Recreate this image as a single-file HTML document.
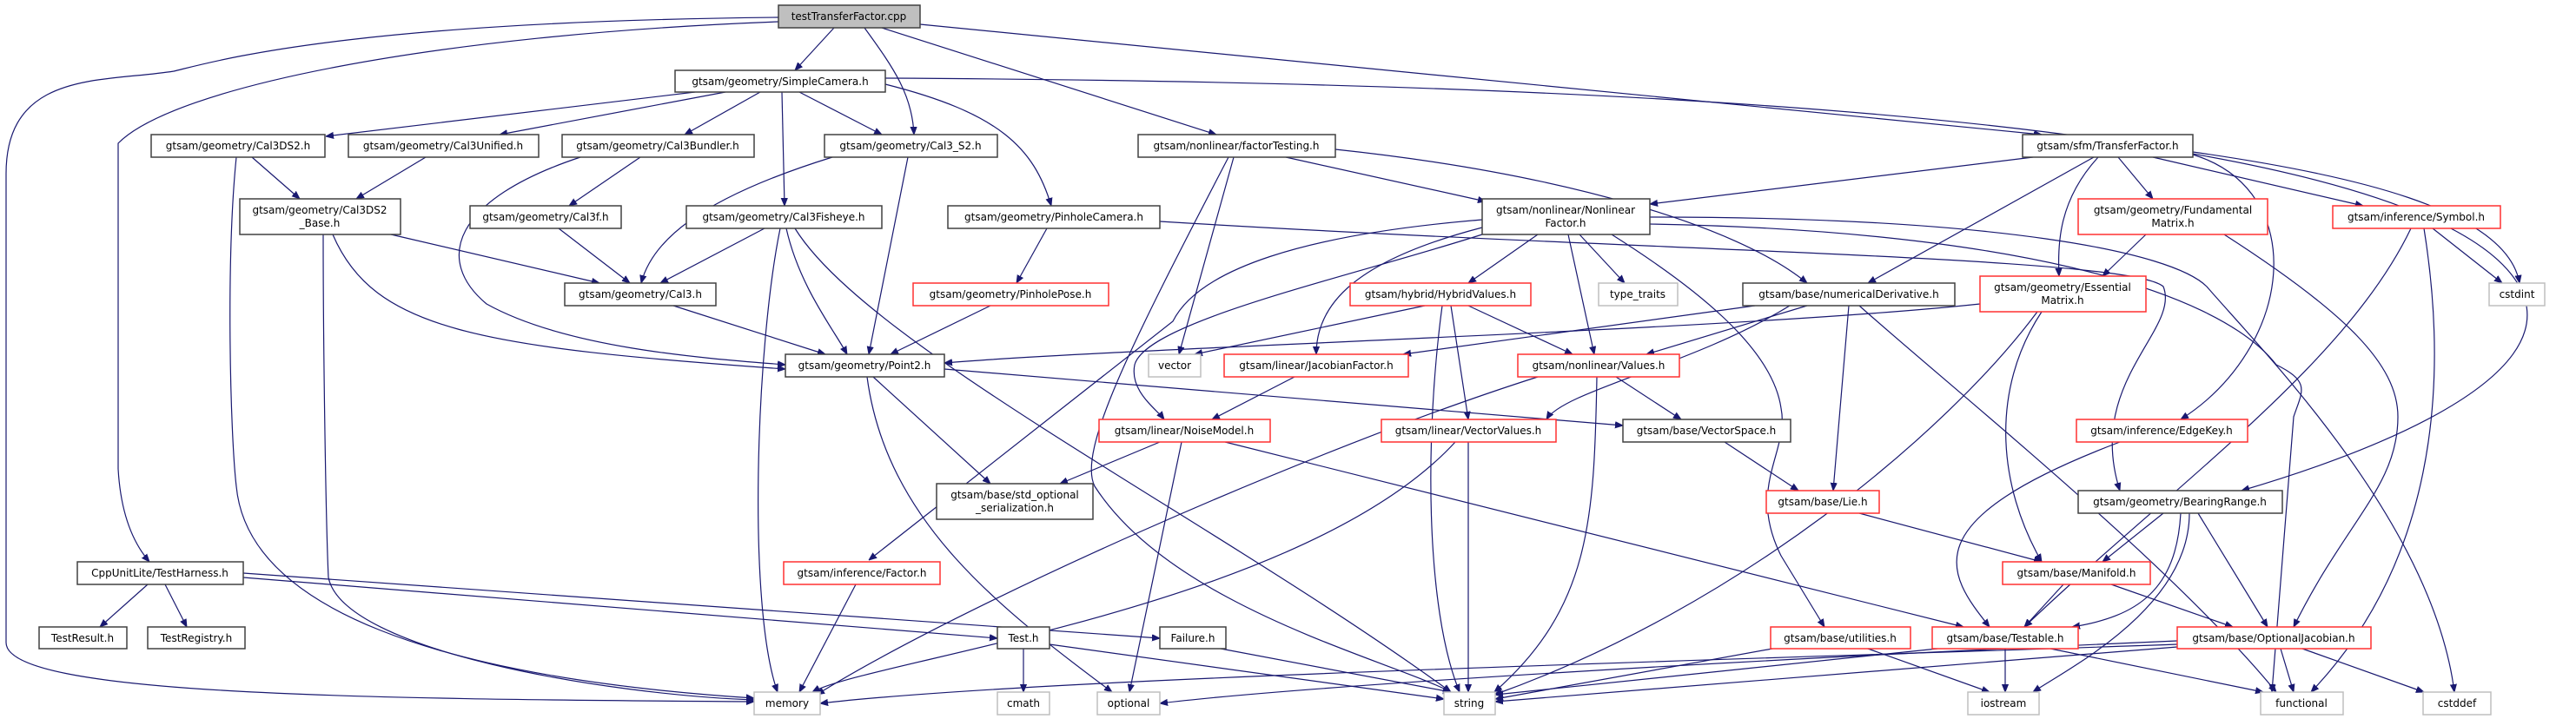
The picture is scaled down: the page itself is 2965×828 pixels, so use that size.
<!DOCTYPE html>
<html><head><meta charset="utf-8"><style>
html,body{margin:0;padding:0;background:#fff;}
svg{display:block;}
text{font-family:"DejaVu Sans","Liberation Sans",sans-serif;font-size:12px;fill:#000;text-anchor:middle;}
.n{fill:#fff;stroke:#404040;stroke-width:1.5;}
.r{fill:#fff;stroke:#ff3030;stroke-width:1.5;}
.g{fill:#fff;stroke:#bfbfbf;stroke-width:1.5;}
.e{fill:none;stroke:#191970;stroke-width:1.2;marker-end:url(#a);}
</style></head><body>
<svg width="2965" height="828" viewBox="0 0 2965 828" xmlns="http://www.w3.org/2000/svg">
<defs><marker id="a" viewBox="0 0 10 10" refX="10" refY="5" markerWidth="9" markerHeight="9" markerUnits="userSpaceOnUse" orient="auto"><path d="M0,1 L10,5 L0,9 z" fill="#191970" stroke="#191970"/></marker></defs>
<g>
<path class="e" d="M960,32 L915,81"/>
<path class="e" d="M995,32 C1030,80 1050,110 1052,155"/>
<path class="e" d="M1015,32 L1400,155"/>
<path class="e" d="M1059,28 L2350,155"/>
<path class="e" d="M896,25 C500,40 200,100 136,165 L136,540 Q140,610 172,647"/>
<path class="e" d="M896,20 C400,25 250,70 200,82 C120,95 7,80 7,200 L7,740 C7,800 400,805 868,808"/>
<path class="e" d="M800,106 L375,157"/>
<path class="e" d="M835,106 L575,155"/>
<path class="e" d="M875,106 L788,155"/>
<path class="e" d="M920,106 L1015,155"/>
<path class="e" d="M900,106 L903,237"/>
<path class="e" d="M1019,97 C1150,130 1190,170 1210,237"/>
<path class="e" d="M1019,90 C2000,95 2800,150 2900,330 C2960,440 2700,530 2580,565"/>
<path class="e" d="M290,181 L345,229"/>
<path class="e" d="M272,181 C260,300 265,500 272,560 C285,700 500,780 868,804"/>
<path class="e" d="M490,181 L410,229"/>
<path class="e" d="M737,181 L655,237"/>
<path class="e" d="M668,181 C520,230 500,300 560,350 C650,400 800,412 904,420"/>
<path class="e" d="M958,181 C800,230 750,280 738,326"/>
<path class="e" d="M1045,181 L1000,408"/>
<path class="e" d="M450,270 L690,326"/>
<path class="e" d="M383,270 C430,380 550,400 904,425"/>
<path class="e" d="M372,270 C372,400 375,600 378,665 C395,750 700,800 868,806"/>
<path class="e" d="M643,263 L725,326"/>
<path class="e" d="M880,263 L760,326"/>
<path class="e" d="M905,263 C920,330 960,380 975,408"/>
<path class="e" d="M898,263 C870,400 860,700 895,797"/>
<path class="e" d="M915,263 C1000,400 1400,600 1670,797"/>
<path class="e" d="M775,352 L950,408"/>
<path class="e" d="M1205,263 L1170,326"/>
<path class="e" d="M1335,255 C1900,290 2450,295 2490,330 C2510,380 2400,440 2440,565"/>
<path class="e" d="M1140,352 L1025,408"/>
<path class="e" d="M1480,181 L1710,232"/>
<path class="e" d="M1537,172 C1800,200 2000,260 2080,326"/>
<path class="e" d="M1420,181 L1357,408"/>
<path class="e" d="M1414,181 C1300,400 1240,520 1260,560 C1350,700 1600,760 1670,797"/>
<path class="e" d="M2340,181 L1899,235"/>
<path class="e" d="M2410,181 L2150,326"/>
<path class="e" d="M2415,181 C2370,230 2368,280 2370,318"/>
<path class="e" d="M2438,181 L2478,229"/>
<path class="e" d="M2478,181 L2720,237"/>
<path class="e" d="M2524,175 C2700,200 2885,240 2900,326"/>
<path class="e" d="M2524,178 C2660,220 2640,400 2510,483"/>
<path class="e" d="M1770,270 L1690,326"/>
<path class="e" d="M1818,270 L1870,326"/>
<path class="e" d="M1706,262 C1560,300 1515,350 1515,408"/>
<path class="e" d="M1805,270 L1835,408"/>
<path class="e" d="M1706,270 C1550,320 1320,370 1306,420 C1300,450 1330,470 1340,483"/>
<path class="e" d="M1706,253 C1500,270 1380,310 1350,370 L1000,645"/>
<path class="e" d="M1855,270 C1950,330 2040,400 2050,470 C2060,520 2010,560 2050,640 L2100,722"/>
<path class="e" d="M1899,250 C2300,250 2500,290 2540,330 C2600,400 2800,600 2825,797"/>
<path class="e" d="M1899,258 C2300,265 2550,330 2620,420 C2660,440 2650,450 2640,480 L2615,797"/>
<path class="e" d="M1640,352 L1375,408"/>
<path class="e" d="M1690,352 L1810,408"/>
<path class="e" d="M1670,352 L1690,483"/>
<path class="e" d="M1660,352 C1640,500 1640,700 1680,797"/>
<path class="e" d="M2020,352 L1615,408"/>
<path class="e" d="M2080,352 L1895,408"/>
<path class="e" d="M2060,352 C1950,420 1800,450 1780,483"/>
<path class="e" d="M2128,352 L2110,565"/>
<path class="e" d="M2140,352 C2250,450 2500,650 2620,797"/>
<path class="e" d="M2279,350 C2000,380 1300,400 1087,418"/>
<path class="e" d="M2350,359 C2290,450 2300,560 2350,647"/>
<path class="e" d="M2345,359 C2240,500 2000,700 1720,800"/>
<path class="e" d="M2470,270 L2420,318"/>
<path class="e" d="M2560,270 C2700,360 2760,420 2760,480 C2760,560 2700,600 2640,722"/>
<path class="e" d="M2800,263 L2880,326"/>
<path class="e" d="M2775,263 C2700,420 2500,560 2330,722"/>
<path class="e" d="M2790,263 C2820,450 2800,650 2660,797"/>
<path class="e" d="M1490,434 L1395,483"/>
<path class="e" d="M1860,434 L1935,483"/>
<path class="e" d="M1838,434 C1835,600 1830,700 1720,797"/>
<path class="e" d="M1770,434 C1500,520 1100,700 940,800"/>
<path class="e" d="M1087,425 L1868,490"/>
<path class="e" d="M1005,434 L1140,557"/>
<path class="e" d="M998,434 C1020,600 1150,700 1280,797"/>
<path class="e" d="M1335,509 L1220,557"/>
<path class="e" d="M1360,509 L1300,797"/>
<path class="e" d="M1410,509 L2260,722"/>
<path class="e" d="M1690,509 L1690,797"/>
<path class="e" d="M1675,509 C1500,700 1000,760 935,797"/>
<path class="e" d="M1985,509 L2070,565"/>
<path class="e" d="M2440,509 C2200,600 2240,660 2290,722"/>
<path class="e" d="M2140,591 L2350,647"/>
<path class="e" d="M2490,591 L2420,647"/>
<path class="e" d="M2510,591 C2505,680 2460,710 2385,722"/>
<path class="e" d="M2530,591 L2610,722"/>
<path class="e" d="M2520,591 C2520,700 2380,770 2340,797"/>
<path class="e" d="M985,673 L920,797"/>
<path class="e" d="M2375,673 L2330,722"/>
<path class="e" d="M2430,673 L2570,722"/>
<path class="e" d="M170,673 L115,722"/>
<path class="e" d="M190,673 L215,722"/>
<path class="e" d="M280,665 L1148,735"/>
<path class="e" d="M280,660 L1335,735"/>
<path class="e" d="M1178,747 L1178,797"/>
<path class="e" d="M1208,742 L1662,805"/>
<path class="e" d="M1405,747 L1670,797"/>
<path class="e" d="M2040,747 L1721,805"/>
<path class="e" d="M2150,747 L2290,797"/>
<path class="e" d="M2230,747 L1721,800"/>
<path class="e" d="M2308,747 L2308,797"/>
<path class="e" d="M2360,747 L2605,797"/>
<path class="e" d="M2506,742 C2000,760 1200,780 944,810"/>
<path class="e" d="M2506,745 L1721,808"/>
<path class="e" d="M2506,738 C2000,760 1500,790 1335,810"/>
<path class="e" d="M2625,747 L2640,797"/>
<path class="e" d="M2650,747 L2790,797"/>
</g>
<g>
<rect x="896" y="6" width="163" height="26" fill="#bfbfbf" stroke="#404040" stroke-width="1.5"/><text x="977" y="23">testTransferFactor.cpp</text>
<rect class="n" x="777" y="81" width="242" height="25"/><text x="898" y="98">gtsam/geometry/SimpleCamera.h</text>
<rect class="n" x="174" y="155" width="200" height="26"/><text x="274" y="172">gtsam/geometry/Cal3DS2.h</text>
<rect class="n" x="401" y="155" width="219" height="26"/><text x="510" y="172">gtsam/geometry/Cal3Unified.h</text>
<rect class="n" x="647" y="155" width="221" height="26"/><text x="757" y="172">gtsam/geometry/Cal3Bundler.h</text>
<rect class="n" x="949" y="155" width="199" height="26"/><text x="1048" y="172">gtsam/geometry/Cal3_S2.h</text>
<rect class="n" x="1310" y="155" width="227" height="26"/><text x="1423" y="172">gtsam/nonlinear/factorTesting.h</text>
<rect class="n" x="2328" y="155" width="196" height="26"/><text x="2426" y="172">gtsam/sfm/TransferFactor.h</text>
<rect class="n" x="276" y="229" width="185" height="41"/><text x="368" y="246">gtsam/geometry/Cal3DS2</text><text x="368" y="261">_Base.h</text>
<rect class="n" x="541" y="237" width="174" height="26"/><text x="628" y="254">gtsam/geometry/Cal3f.h</text>
<rect class="n" x="790" y="237" width="225" height="26"/><text x="902" y="254">gtsam/geometry/Cal3Fisheye.h</text>
<rect class="n" x="1091" y="237" width="244" height="26"/><text x="1213" y="254">gtsam/geometry/PinholeCamera.h</text>
<rect class="n" x="1706" y="229" width="193" height="41"/><text x="1802" y="246">gtsam/nonlinear/Nonlinear</text><text x="1802" y="261">Factor.h</text>
<rect class="r" x="2392" y="229" width="218" height="41"/><text x="2501" y="246">gtsam/geometry/Fundamental</text><text x="2501" y="261">Matrix.h</text>
<rect class="r" x="2685" y="237" width="193" height="26"/><text x="2781" y="254">gtsam/inference/Symbol.h</text>
<rect class="n" x="650" y="326" width="174" height="26"/><text x="737" y="343">gtsam/geometry/Cal3.h</text>
<rect class="r" x="1051" y="326" width="225" height="26"/><text x="1163" y="343">gtsam/geometry/PinholePose.h</text>
<rect class="r" x="1554" y="326" width="208" height="26"/><text x="1658" y="343">gtsam/hybrid/HybridValues.h</text>
<rect class="g" x="1840" y="326" width="91" height="26"/><text x="1885" y="343">type_traits</text>
<rect class="n" x="2006" y="326" width="244" height="26"/><text x="2128" y="343">gtsam/base/numericalDerivative.h</text>
<rect class="r" x="2279" y="318" width="191" height="41"/><text x="2374" y="335">gtsam/geometry/Essential</text><text x="2374" y="350">Matrix.h</text>
<rect class="g" x="2865" y="326" width="64" height="26"/><text x="2897" y="343">cstdint</text>
<rect class="n" x="904" y="408" width="183" height="26"/><text x="995" y="425">gtsam/geometry/Point2.h</text>
<rect class="g" x="1322" y="408" width="60" height="26"/><text x="1352" y="425">vector</text>
<rect class="r" x="1409" y="408" width="212" height="26"/><text x="1515" y="425">gtsam/linear/JacobianFactor.h</text>
<rect class="r" x="1747" y="408" width="186" height="26"/><text x="1840" y="425">gtsam/nonlinear/Values.h</text>
<rect class="r" x="1265" y="483" width="197" height="26"/><text x="1363" y="500">gtsam/linear/NoiseModel.h</text>
<rect class="r" x="1590" y="483" width="201" height="26"/><text x="1690" y="500">gtsam/linear/VectorValues.h</text>
<rect class="n" x="1868" y="483" width="193" height="26"/><text x="1964" y="500">gtsam/base/VectorSpace.h</text>
<rect class="r" x="2390" y="483" width="197" height="26"/><text x="2488" y="500">gtsam/inference/EdgeKey.h</text>
<rect class="n" x="1078" y="557" width="180" height="41"/><text x="1168" y="574">gtsam/base/std_optional</text><text x="1168" y="589">_serialization.h</text>
<rect class="r" x="2033" y="565" width="130" height="26"/><text x="2098" y="582">gtsam/base/Lie.h</text>
<rect class="n" x="2392" y="565" width="235" height="26"/><text x="2509" y="582">gtsam/geometry/BearingRange.h</text>
<rect class="n" x="89" y="647" width="191" height="26"/><text x="184" y="664">CppUnitLite/TestHarness.h</text>
<rect class="r" x="902" y="647" width="180" height="26"/><text x="992" y="664">gtsam/inference/Factor.h</text>
<rect class="r" x="2305" y="647" width="170" height="26"/><text x="2390" y="664">gtsam/base/Manifold.h</text>
<rect class="n" x="45" y="722" width="101" height="25"/><text x="95" y="739">TestResult.h</text>
<rect class="n" x="170" y="722" width="112" height="25"/><text x="226" y="739">TestRegistry.h</text>
<rect class="n" x="1148" y="722" width="60" height="25"/><text x="1178" y="739">Test.h</text>
<rect class="n" x="1335" y="722" width="76" height="25"/><text x="1373" y="739">Failure.h</text>
<rect class="r" x="2038" y="722" width="161" height="25"/><text x="2118" y="739">gtsam/base/utilities.h</text>
<rect class="r" x="2224" y="722" width="168" height="25"/><text x="2308" y="739">gtsam/base/Testable.h</text>
<rect class="r" x="2506" y="722" width="223" height="25"/><text x="2617" y="739">gtsam/base/OptionalJacobian.h</text>
<rect class="g" x="868" y="797" width="76" height="26"/><text x="906" y="814">memory</text>
<rect class="g" x="1148" y="797" width="60" height="26"/><text x="1178" y="814">cmath</text>
<rect class="g" x="1263" y="797" width="72" height="26"/><text x="1299" y="814">optional</text>
<rect class="g" x="1662" y="797" width="59" height="26"/><text x="1691" y="814">string</text>
<rect class="g" x="2265" y="797" width="82" height="26"/><text x="2306" y="814">iostream</text>
<rect class="g" x="2602" y="797" width="95" height="26"/><text x="2649" y="814">functional</text>
<rect class="g" x="2789" y="797" width="78" height="26"/><text x="2828" y="814">cstddef</text>
</g>
</svg>
</body></html>
